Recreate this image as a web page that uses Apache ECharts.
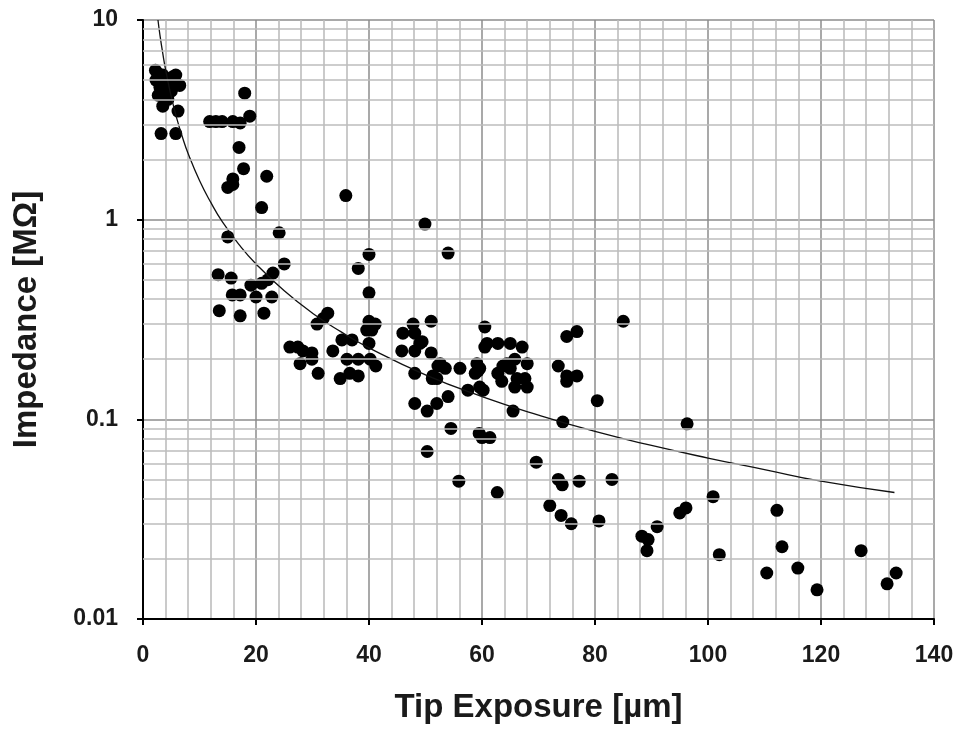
<!DOCTYPE html>
<html>
<head>
<meta charset="utf-8">
<script src="https://cdn.jsdelivr.net/npm/echarts@6/dist/echarts.min.js"></script>
<style>
  html, body { margin: 0; padding: 0; background: #fff; }
  #chart { width: 960px; height: 729px; }
</style>
</head>
<body>
<div id="chart"></div>
<script>
// measured points: tip exposure (um) and impedance (MOhm)
var exposure = [
  2.2, 2.6, 2.3, 3.0, 2.7, 3.5, 3.9, 4.4, 4.4, 3.5, 5.3, 5.8, 6.5, 5.0, 6.2, 3.2, 5.8, 4.2, 3.6,
  11.8, 12.9, 14.0, 15.9, 17.2,
  18.0, 18.9, 17.0, 17.8, 15.9, 15.0, 15.9, 21.9, 21.0, 24.1, 15.0, 25.0, 13.3, 15.6, 23.0, 22.1,
  21.0, 19.1, 15.8, 17.2, 20.0, 22.8, 13.5, 17.2, 21.4,
  26.0, 27.4, 28.3, 29.9, 27.8, 29.9, 30.8, 31.9, 32.7, 31.0, 33.6, 34.9, 35.2, 37.0, 36.1, 38.1,
  36.6, 38.1, 40.2, 41.2, 40.0, 35.9, 40.0, 38.1, 40.0, 40.0, 41.1, 40.5, 39.6,
  49.9, 54.0, 47.8, 51.0, 46.0, 48.1, 49.4, 49.0, 48.1, 45.8, 51.0, 48.1, 52.2, 53.5, 56.1, 59.1,
  59.3, 51.3, 52.6, 51.2, 52.0, 58.8, 59.6, 57.5, 59.6, 60.2, 54.0, 48.1, 50.3, 52.0, 54.5, 59.5,
  60.0, 61.4, 50.3, 55.9,
  60.5, 60.5, 60.9, 62.8, 65.0, 67.1, 64.4, 65.8, 63.7, 65.0, 62.8, 68.0, 66.2, 67.6, 65.8, 68.0,
  63.5, 65.5, 62.7, 69.6, 75.0, 76.8, 73.5, 75.0, 75.0, 76.8, 74.3, 73.5, 74.2, 77.2, 72.0, 74.0,
  75.8, 80.4,
  85.0, 83.0, 80.7, 96.3, 95.0, 96.1, 100.9, 91.0, 88.3, 89.4, 89.2, 112.2, 102.0, 113.1, 127.1,
  110.4, 115.9, 119.3, 131.7, 133.3
];
var impedance = [
  5.6, 5.4, 5.0, 4.6, 4.2, 5.3, 4.1, 4.8, 4.0, 3.7, 5.2, 5.3, 4.7, 4.4, 3.5, 2.7, 2.7, 4.4, 4.9,
  3.1, 3.1, 3.1, 3.1, 3.05,
  4.3, 3.3, 2.3, 1.8, 1.6, 1.45, 1.5, 1.65, 1.15, 0.86, 0.82, 0.6, 0.53, 0.51, 0.54, 0.5,
  0.48, 0.47, 0.42, 0.42, 0.41, 0.41, 0.35, 0.33, 0.34,
  0.23, 0.23, 0.22, 0.215, 0.19, 0.2, 0.30, 0.32, 0.34, 0.17, 0.22, 0.16, 0.25, 0.25, 0.2, 0.2,
  0.17, 0.165, 0.2, 0.185, 0.24, 1.32, 0.67, 0.57, 0.43, 0.31, 0.30, 0.28, 0.28,
  0.95, 0.68, 0.30, 0.31, 0.27, 0.27, 0.245, 0.24, 0.22, 0.22, 0.215, 0.17, 0.185, 0.18, 0.18, 0.19,
  0.175, 0.165, 0.19, 0.16, 0.16, 0.17, 0.18, 0.14, 0.145, 0.14, 0.13, 0.12, 0.11, 0.12, 0.09, 0.085,
  0.081, 0.081, 0.069, 0.049,
  0.29, 0.23, 0.24, 0.24, 0.24, 0.23, 0.19, 0.2, 0.185, 0.18, 0.17, 0.19, 0.16, 0.16, 0.145, 0.145,
  0.155, 0.11, 0.043, 0.061, 0.26, 0.275, 0.185, 0.165, 0.155, 0.165, 0.097, 0.05, 0.047, 0.049, 0.037, 0.033,
  0.03, 0.124,
  0.31, 0.05, 0.031, 0.095, 0.034, 0.036, 0.041, 0.029, 0.026, 0.025, 0.022, 0.035, 0.021, 0.023, 0.022,
  0.017, 0.018, 0.014, 0.015, 0.017
];

// trend curve
var fitX = [2.65, 3, 3.5, 4, 5, 6, 7, 8, 10, 12, 14, 17, 20, 25, 30, 35, 40, 50, 60, 70, 80, 90, 100, 110, 120, 133];
var fitY = [10, 8.4, 6.8, 5.64, 4.13, 3.2, 2.58, 2.14, 1.57, 1.22, 0.98, 0.75, 0.6, 0.44, 0.34, 0.275, 0.228,
            0.167, 0.13, 0.105, 0.087, 0.074, 0.064, 0.056, 0.049, 0.043];

// horizontal minor grid values of the log axis
var minorLevels = [0.02, 0.03, 0.04, 0.05, 0.06, 0.07, 0.08, 0.09,
                   0.2, 0.3, 0.4, 0.5, 0.6, 0.7, 0.8, 0.9,
                   2, 3, 4, 5, 6, 7, 8, 9];

var points = exposure.map(function (x, i) { return [x, impedance[i]]; });
var curve = fitX.map(function (x, i) { return [x, fitY[i]]; });

var font = 'Liberation Sans, Arial, sans-serif';
var ink = '#1a1a1a';

var myChart = echarts.init(document.getElementById('chart'));
var option = {
  animation: false,
  backgroundColor: '#fff',
  grid: { left: 143, right: 26, top: 20, bottom: 109 },
  xAxis: {
    type: 'value',
    min: 0, max: 140, interval: 20,
    name: 'Tip Exposure [\u00b5m]',
    nameLocation: 'middle',
    nameGap: 72,
    nameTextStyle: { fontFamily: font, fontWeight: 'bold', fontSize: 33, color: ink },
    axisLine: { lineStyle: { color: '#000', width: 2 } },
    axisTick: { show: true, inside: false, length: 6, lineStyle: { color: '#000', width: 2 } },
    axisLabel: { margin: 25, fontFamily: font, fontWeight: 'bold', fontSize: 23, color: ink },
    splitLine: { show: true, lineStyle: { color: '#8c8c8c', width: 1.5 } },
    minorTick: { show: false, splitNumber: 5 },
    minorSplitLine: { show: true, lineStyle: { color: '#bdbdbd', width: 1.6 } }
  },
  yAxis: {
    type: 'log',
    logBase: 10,
    min: 0.01, max: 10,
    name: 'Impedance [M\u03a9]',
    nameLocation: 'middle',
    nameGap: 100,
    nameTextStyle: { fontFamily: font, fontWeight: 'bold', fontSize: 33, color: ink },
    axisLine: { show: true, lineStyle: { color: '#000', width: 2 } },
    axisTick: { show: true, inside: false, length: 6, lineStyle: { color: '#000', width: 2 } },
    axisLabel: {
      margin: 25, fontFamily: font, fontWeight: 'bold', fontSize: 23, color: ink,
      formatter: function (v) { return String(+v.toPrecision(3)); }
    },
    splitLine: { show: true, lineStyle: { color: '#8c8c8c', width: 1.5 } }
  },
  series: [
    {
      name: 'grid',
      type: 'line',
      data: [],
      silent: true,
      z: 1,
      markLine: {
        silent: true,
        symbol: 'none',
        label: { show: false },
        lineStyle: { color: '#bdbdbd', width: 1.6, type: 'solid' },
        data: minorLevels.map(function (v) { return { yAxis: v }; })
      }
    },
    {
      name: 'Impedance',
      type: 'scatter',
      data: points,
      symbol: 'circle',
      symbolSize: 13,
      itemStyle: { color: '#000', opacity: 1 },
      z: 3
    },
    {
      name: 'Fit',
      type: 'line',
      data: curve,
      smooth: true,
      showSymbol: false,
      lineStyle: { color: '#111', width: 1.3 },
      z: 4
    }
  ]
};
myChart.setOption(option);
</script>
</body>
</html>
